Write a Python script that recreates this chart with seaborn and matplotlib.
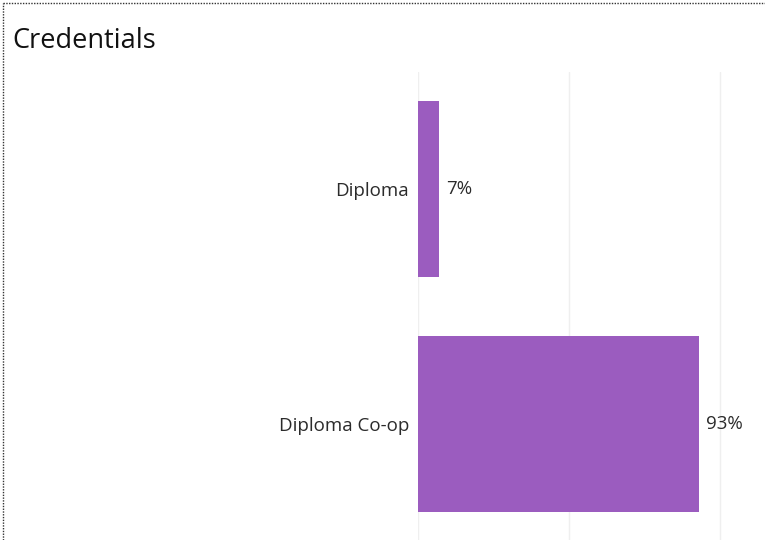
import pandas as pd
import matplotlib.pyplot as plt
import seaborn as sns
from matplotlib.lines import Line2D

# Data
credentials = ['Diploma', 'Diploma Co-op']
shares = [0.07, 0.93]
value_labels = ['7%', '93%']

df = pd.DataFrame({'credential': credentials, 'share': shares})

sns.set_style('white')
plt.rcParams['font.family'] = ['Open Sans', 'DejaVu Sans']

fig = plt.figure(figsize=(7.65, 5.4), dpi=100)
ax = fig.add_axes([418 / 765, -1.5 / 540, 1 - 418 / 765, (540 - 72 + 1.5) / 540])

sns.barplot(data=df, y='credential', x='share', color='#9b5cbf', saturation=1,
            width=0.75, linewidth=0, ax=ax)

ax.set_xlim(0, 1.149)
ax.set_ylim(1.5, -0.5)
ax.set_xticks([0, 0.5, 1.0])
ax.xaxis.grid(True, color='#efefef', linewidth=1)
ax.set_axisbelow(True)
ax.tick_params(axis='x', bottom=False, labelbottom=False)
ax.tick_params(axis='y', left=False, labelsize=13.5, labelcolor='#2b2b2b', pad=3)
ax.set_xlabel('')
ax.set_ylabel('')
for s in ax.spines.values():
    s.set_visible(False)

for i, (v, lab) in enumerate(zip(shares, value_labels)):
    ax.annotate(lab, (v, i), xytext=(5, 0), textcoords='offset points',
                va='center', ha='left', fontsize=13.5, color='#2b2b2b')

fig.text(12 / 765, 1 - 41 / 540, 'Credentials', fontsize=19.5, color='#111111',
         va='center', ha='left')

# dotted frame (top and left)
fig.add_artist(Line2D([3 / 765, 3 / 765], [0, 1 - 3 / 540], color='#333333',
                      linestyle=(0, (1, 1)), linewidth=1))
fig.add_artist(Line2D([3 / 765, 1], [1 - 3 / 540, 1 - 3 / 540], color='#333333',
                      linestyle=(0, (1, 1)), linewidth=1))

fig.savefig('out.png', dpi=100)
